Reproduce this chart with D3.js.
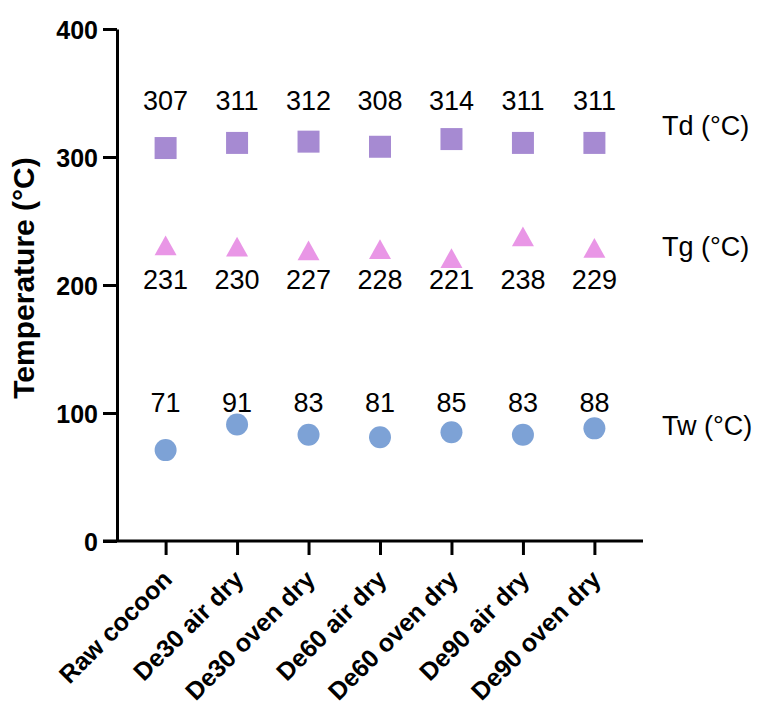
<!DOCTYPE html>
<html>
    <head>
        <meta charset="utf-8">
        <script src="https://cdn.jsdelivr.net/npm/d3@7"></script>
        <style>
            body { margin: 0; background: #fff; }
            text { font-family: Arial, "Liberation Sans", sans-serif; }
        </style>
    </head>
    <body>
        <div class="chart"></div>
    </body>
    <script>
        // data
        const categories = ["Raw cocoon", "De30 air dry", "De30 oven dry", "De60 air dry", "De60 oven dry", "De90 air dry", "De90 oven dry"];
        const td = [307, 311, 312, 308, 314, 311, 311];
        const tg = [231, 230, 227, 228, 221, 238, 229];
        const tw = [71, 91, 83, 81, 85, 83, 88];
        const yTicks = [0, 100, 200, 300, 400];
        const seriesNames = ["Td (°C)", "Tg (°C)", "Tw (°C)"];

        const width = 758;
        const height = 704;
        const margin = ({top: 29, right: 115, bottom: 163, left: 117});

        const x = d3.scalePoint()
            .domain(categories)
            .range([margin.left, width - margin.right])
            .padding(0.68);
        const y = d3.scaleLinear()
            .domain([0, 400])
            .range([height - margin.bottom, margin.top]);

        const svg = d3.select(".chart").append("svg")
            .attr("width", width).attr("height", height);

        // triangle centred on its bounding box, like the original export
        const triangleBox = {
            draw(ctx, size) {
                const s = Math.sqrt(size);
                const h = s * 0.9;
                ctx.moveTo(0, -h / 2);
                ctx.lineTo(s / 2, h / 2);
                ctx.lineTo(-s / 2, h / 2);
                ctx.closePath();
            }
        };

        const series = [
            {name: seriesNames[0], values: td, shape: d3.symbolSquare, size: 484, color: "#a68ad2", labelY: 110, nameY: 135},
            {name: seriesNames[1], values: tg, shape: triangleBox, size: 484, color: "#e996e6", labelY: 289, nameY: 256},
            {name: seriesNames[2], values: tw, shape: d3.symbolCircle, size: 380, color: "#7da2d6", labelY: 412, nameY: 435}
        ];

        // axes
        const yAxis = svg.append("g")
            .attr("transform", `translate(${margin.left},0)`)
            .call(d3.axisLeft(y).tickValues(yTicks).tickSize(14).tickPadding(5).tickSizeOuter(0));
        yAxis.select(".domain").attr("stroke-width", 3);
        yAxis.selectAll(".tick line").attr("stroke-width", 3);
        yAxis.selectAll(".tick text")
            .attr("font-size", 25).attr("font-weight", "bold")
            .attr("font-family", "Arial, 'Liberation Sans', sans-serif")
            .attr("fill", "#000").attr("dy", "0.36em");

        const xAxis = svg.append("g")
            .attr("transform", `translate(0,${y(0)})`)
            .call(d3.axisBottom(x).tickSize(14).tickSizeOuter(0).tickFormat(""));
        xAxis.select(".domain").attr("d", `M${margin.left - 14},0H${width - margin.right}`).attr("stroke-width", 3);
        xAxis.selectAll(".tick line").attr("stroke-width", 3);

        svg.append("g").selectAll("text")
            .data(categories)
            .join("text")
            .attr("transform", d => `translate(${x(d) + 8},${y(0) + 40}) rotate(-45)`)
            .attr("text-anchor", "end")
            .attr("font-size", 25)
            .attr("font-weight", "bold")
            .text(d => d);

        svg.append("text")
            .attr("transform", `translate(34,${(y(0) + y(400)) / 2 - 7}) rotate(-90)`)
            .attr("text-anchor", "middle")
            .attr("font-size", 30)
            .attr("font-weight", "bold")
            .text("Temperature (°C)");

        // points, value labels, series names
        series.forEach(s => {
            const g = svg.append("g");
            g.selectAll("path")
                .data(s.values)
                .join("path")
                .attr("transform", (d, i) => `translate(${x(categories[i])},${y(d)})`)
                .attr("d", d3.symbol(s.shape, s.size))
                .attr("fill", s.color);
            g.selectAll("text")
                .data(s.values)
                .join("text")
                .attr("x", (d, i) => x(categories[i]))
                .attr("y", s.labelY)
                .attr("text-anchor", "middle")
                .attr("font-size", 27)
                .text(d => d);
            svg.append("text")
                .attr("x", 662)
                .attr("y", s.nameY)
                .attr("font-size", 27)
                .text(s.name);
        });
    </script>
</html>
